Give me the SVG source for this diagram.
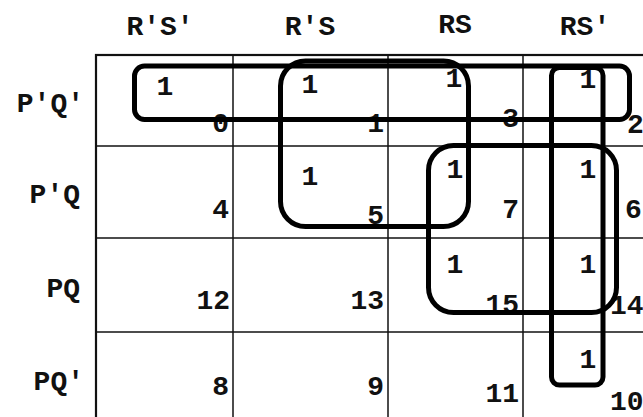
<svg xmlns="http://www.w3.org/2000/svg" width="643" height="417" viewBox="0 0 643 417">
<style>
  text { font-family: "Liberation Mono", "DejaVu Sans Mono", monospace; font-weight: bold; font-size: 28px; fill: #111; }
  .hdr { text-anchor: middle; }
  .row { text-anchor: end; }
  .idx { text-anchor: end; }
  .idxs { text-anchor: start; }
  .one { text-anchor: middle; }
  .grid { fill: none; stroke: #111; stroke-width: 1.5; }
  .border { fill: none; stroke: #111; stroke-width: 2.2; }
  .loop { fill: none; stroke: #000; stroke-width: 5; }
</style>
<rect width="643" height="417" fill="#fff"/>
<g id="headers">
  <text class="hdr" x="160" y="35">R′S′</text>
  <text class="hdr" x="310" y="35">R′S</text>
  <text class="hdr" x="455" y="33">RS</text>
  <text class="hdr" x="585" y="35">RS′</text>
  <text class="row" x="84" y="112">P′Q′</text>
  <text class="row" x="80" y="203">P′Q</text>
  <text class="row" x="80" y="297">PQ</text>
  <text class="row" x="84" y="390">PQ′</text>
</g>
<g id="grid">
  <rect class="border" x="96" y="55" width="600" height="400"/>
  <line class="grid" x1="233" y1="55" x2="233" y2="417"/>
  <line class="grid" x1="388" y1="55" x2="388" y2="417"/>
  <line class="grid" x1="523" y1="55" x2="523" y2="417"/>
  <line class="grid" x1="96" y1="146" x2="643" y2="146"/>
  <line class="grid" x1="96" y1="238" x2="643" y2="238"/>
  <line class="grid" x1="96" y1="332" x2="643" y2="332"/>
</g>
<g id="cells">
  <text class="idx" x="229" y="132">0</text>
  <text class="idx" x="384" y="132">1</text>
  <text class="idx" x="519" y="127">3</text>
  <text class="idxs" x="627" y="133">2</text>
  <text class="idx" x="229" y="218">4</text>
  <text class="idx" x="384" y="224">5</text>
  <text class="idx" x="519" y="218">7</text>
  <text class="idxs" x="625" y="218">6</text>
  <text class="idx" x="230" y="309">12</text>
  <text class="idx" x="384" y="309">13</text>
  <text class="idx" x="519" y="313">15</text>
  <text class="idxs" x="610" y="314">14</text>
  <text class="idx" x="229" y="395">8</text>
  <text class="idx" x="384" y="395">9</text>
  <text class="idx" x="519" y="402">11</text>
  <text class="idxs" x="610" y="410">10</text>
  <text class="one" x="165" y="95">1</text>
  <text class="one" x="310" y="93">1</text>
  <text class="one" x="454" y="87">1</text>
  <text class="one" x="588" y="88">1</text>
  <text class="one" x="310" y="185">1</text>
  <text class="one" x="455" y="178">1</text>
  <text class="one" x="588" y="178">1</text>
  <text class="one" x="455" y="273">1</text>
  <text class="one" x="588" y="273">1</text>
  <text class="one" x="588" y="368">1</text>
</g>
<g id="loops">
  <rect class="loop" x="134.5" y="66" width="495" height="53.5" rx="10"/>
  <rect class="loop" x="280.5" y="61" width="188" height="165.5" rx="25"/>
  <rect class="loop" x="428.5" y="145.5" width="188" height="167" rx="25"/>
  <rect class="loop" x="551.5" y="67.5" width="51.5" height="317.5" rx="8"/>
</g>
</svg>
